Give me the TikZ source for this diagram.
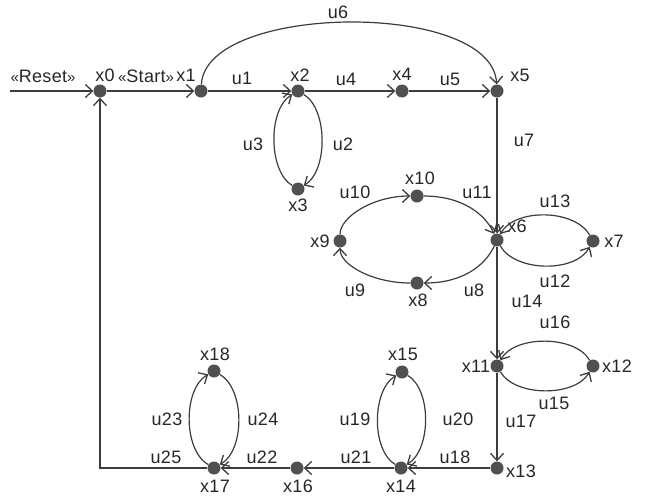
\documentclass[tikz,border=0pt]{standalone}
\usepackage{fontspec}
\setmainfont[LetterSpace=1.5]{Liberation Sans}
\usetikzlibrary{arrows.meta}
\definecolor{ln}{HTML}{3C3C3C}
\definecolor{dt}{HTML}{505050}
\definecolor{tx}{HTML}{262626}
\newcommand{\glo}{{\fontsize{15}{15}\selectfont «}}
\newcommand{\glc}{{\fontsize{15}{15}\selectfont »}}
\begin{document}
\begin{tikzpicture}[x=1pt,y=-1pt,
  dot/.style={circle,fill=dt,draw=none,inner sep=0pt,minimum size=13pt},
  lbl/.style={inner sep=0pt,text=tx,font=\fontsize{18}{21}\selectfont},
  arr/.style={draw=ln,line width=1.2pt,-{Straight Barb[length=7pt,width=13pt,line width=1.3pt]}}]
\useasboundingbox (0,0) rectangle (646,501);
% states
\node[dot] (x0) at (100,91) {};
\node[dot] (x1) at (201,91) {};
\node[dot] (x2) at (298,91) {};
\node[dot] (x3) at (298,189) {};
\node[dot] (x4) at (402,91) {};
\node[dot] (x5) at (497,91) {};
\node[dot] (x6) at (497,240) {};
\node[dot] (x7) at (593,241) {};
\node[dot] (x8) at (417,283) {};
\node[dot] (x9) at (340,241) {};
\node[dot] (x10) at (417,196) {};
\node[dot] (x11) at (497,366) {};
\node[dot] (x12) at (593,366) {};
\node[dot] (x13) at (497,468) {};
\node[dot] (x14) at (401,468) {};
\node[dot] (x15) at (402,372) {};
\node[dot] (x16) at (297,468) {};
\node[dot] (x17) at (214,468) {};
\node[dot] (x18) at (214,371) {};
\coordinate (rs) at (10,91);
% state labels
\node[lbl] (lx0) at (105,75) {x0};
\node[lbl] (lx1) at (186,75) {x1};
\node[lbl] (lx2) at (300,75) {x2};
\node[lbl] (lx3) at (298,205) {x3};
\node[lbl] (lx4) at (402,74) {x4};
\node[lbl] (lx5) at (520,75) {x5};
\node[lbl] (lx6) at (517,226) {x6};
\node[lbl] (lx7) at (614,241) {x7};
\node[lbl] (lx8) at (418,300) {x8};
\node[lbl] (lx9) at (320,241) {x9};
\node[lbl] (lx10) at (420,178) {x10};
\node[lbl] (lx11) at (476,366) {x11};
\node[lbl] (lx12) at (617,366) {x12};
\node[lbl] (lx13) at (521,471) {x13};
\node[lbl] (lx14) at (401,486) {x14};
\node[lbl] (lx15) at (403,354) {x15};
\node[lbl] (lx16) at (298,486) {x16};
\node[lbl] (lx17) at (215,486) {x17};
\node[lbl] (lx18) at (215,354) {x18};
\node[lbl] (lres) at (43,76) {\glo Reset\glc};
\node[lbl] (lstart) at (146,76) {\glo Start\glc};
% edge labels
\node[lbl] (l1) at (242,78) {u1};
\node[lbl] (l2) at (343,144) {u2};
\node[lbl] (l3) at (253,144) {u3};
\node[lbl] (l4) at (346,79) {u4};
\node[lbl] (l5) at (450,79) {u5};
\node[lbl] (l6) at (338,12) {u6};
\node[lbl] (l7) at (524,140) {u7};
\node[lbl] (l8) at (474,290) {u8};
\node[lbl] (l9) at (355,290) {u9};
\node[lbl] (l10) at (355,192) {u10};
\node[lbl] (l11) at (477,192) {u11};
\node[lbl] (l12) at (555,281) {u12};
\node[lbl] (l13) at (555,201) {u13};
\node[lbl] (l14) at (527,301) {u14};
\node[lbl] (l15) at (554,403) {u15};
\node[lbl] (l16) at (555,322) {u16};
\node[lbl] (l17) at (521,421) {u17};
\node[lbl] (l18) at (455,457) {u18};
\node[lbl] (l19) at (355,419) {u19};
\node[lbl] (l20) at (458,419) {u20};
\node[lbl] (l21) at (356,457) {u21};
\node[lbl] (l22) at (262,457) {u22};
\node[lbl] (l23) at (167,419) {u23};
\node[lbl] (l24) at (263,419) {u24};
\node[lbl] (l25) at (166,457) {u25};
% connectors
\draw[arr] (rs) -- (x0);
\draw[arr] (x0) -- (x1);
\draw[arr] (x1) -- (x2);
\draw[arr] (x2) .. controls +(30,18) and +(30,-18) .. (x3);
\draw[arr] (x3) .. controls +(-30,-18) and +(-30,18) .. (x2);
\draw[arr] (x2) -- (x4);
\draw[arr] (x4) -- (x5);
\draw[arr] (x1) .. controls (206,3) and (492,0) .. (x5);
\draw[arr] (x5) -- (x6);
\draw[arr] (x6) .. controls +(-12,26) and +(45,0) .. (x8);
\draw[arr] (x8) .. controls +(-44,0) and +(0,24) .. (x9);
\draw[arr] (x9) .. controls +(0,-24) and +(-44,0) .. (x10);
\draw[arr] (x10) .. controls +(45,0) and +(-12,-26) .. (x6);
\draw[arr] (x6) .. controls +(18,32) and +(-18,32) .. (x7);
\draw[arr] (x7) .. controls +(-18,-32) and +(18,-32) .. (x6);
\draw[arr] (x6) -- (x11);
\draw[arr] (x11) .. controls +(18,31) and +(-18,31) .. (x12);
\draw[arr] (x12) .. controls +(-18,-31) and +(18,-31) .. (x11);
\draw[arr] (x11) -- (x13);
\draw[arr] (x13) -- (x14);
\draw[arr] (x14) .. controls +(-30,-18) and +(-30,18) .. (x15);
\draw[arr] (x15) .. controls +(30,18) and +(30,-18) .. (x14);
\draw[arr] (x14) -- (x16);
\draw[arr] (x16) -- (x17);
\draw[arr] (x17) .. controls +(-31,-18) and +(-31,18) .. (x18);
\draw[arr] (x18) .. controls +(31,18) and +(31,-18) .. (x17);
\draw[arr] (x17) -- (x0 |- x17) -- (x0);
\end{tikzpicture}
\end{document}
